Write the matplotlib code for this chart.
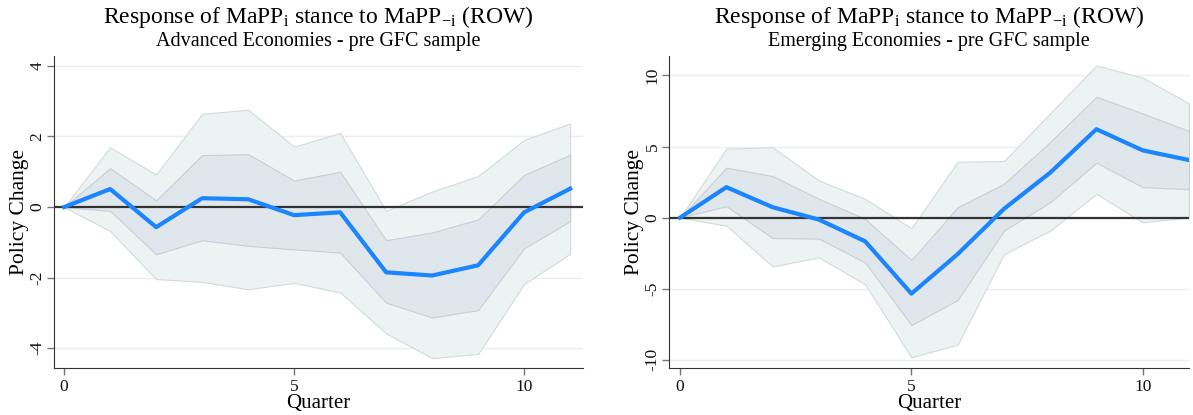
import matplotlib
matplotlib.use("Agg")
import matplotlib.pyplot as plt
import numpy as np

plt.rcParams['font.family'] = ['Liberation Serif', 'DejaVu Serif']
plt.rcParams['mathtext.fontset'] = 'custom'
plt.rcParams['mathtext.rm'] = 'Liberation Serif'
plt.rcParams['mathtext.it'] = 'Liberation Serif:italic'
plt.rcParams['axes.unicode_minus'] = False

quarters = list(range(12))

# Advanced Economies
ae_point = [0, 0.51, -0.57, 0.25, 0.22, -0.23, -0.15, -1.85, -1.94, -1.65, -0.15, 0.52]
ae_in_hi = [0, 1.10, 0.19, 1.47, 1.50, 0.75, 1.00, -0.94, -0.72, -0.35, 0.91, 1.48]
ae_in_lo = [0, -0.11, -1.34, -0.94, -1.10, -1.20, -1.29, -2.71, -3.13, -2.92, -1.17, -0.40]
ae_out_hi = [0, 1.69, 0.92, 2.64, 2.76, 1.71, 2.10, -0.11, 0.44, 0.88, 1.90, 2.37]
ae_out_lo = [0, -0.68, -2.04, -2.12, -2.33, -2.15, -2.42, -3.58, -4.28, -4.16, -2.18, -1.32]

# Emerging Economies
em_point = [0, 2.14, 0.73, -0.14, -1.67, -5.35, -2.57, 0.61, 3.16, 6.22, 4.73, 4.05]
em_in_hi = [0, 3.51, 2.92, 1.32, -0.09, -2.99, 0.73, 2.38, 5.32, 8.50, 7.33, 6.10]
em_in_lo = [0, 0.80, -1.44, -1.48, -3.16, -7.56, -5.80, -0.92, 1.08, 3.86, 2.14, 2.00]
em_out_hi = [0, 4.85, 4.95, 2.61, 1.32, -0.75, 3.93, 3.98, 7.33, 10.70, 9.85, 8.03]
em_out_lo = [0, -0.57, -3.44, -2.80, -4.69, -9.83, -8.93, -2.57, -0.92, 1.67, -0.33, 0.02]

title = r"Response of MaPP$_\mathrm{i}$ stance to MaPP$_\mathrm{-i}$ (ROW)"
subtitles = ["Advanced Economies - pre GFC sample", "Emerging Economies - pre GFC sample"]
yticks_ae = [-4, -2, 0, 2, 4]
yticks_em = [-10, -5, 0, 5, 10]
xticks = [0, 5, 10]

fig = plt.figure(figsize=(11.93, 4.15), dpi=100)
ax1 = fig.add_axes([0.0453, 0.1133, 0.4434, 0.7518])
ax2 = fig.add_axes([0.5608, 0.1133, 0.4358, 0.7518])

panels = [
    (ax1, ae_point, ae_in_hi, ae_in_lo, ae_out_hi, ae_out_lo, yticks_ae, (-4.56, 4.28), (-0.22, 11.28), subtitles[0]),
    (ax2, em_point, em_in_hi, em_in_lo, em_out_hi, em_out_lo, yticks_em, (-10.58, 11.37), (-0.24, 11.0), subtitles[1]),
]

for ax, pt, ih, il, oh, ol, yt, ylim, xlim, sub in panels:
    for y in yt:
        ax.axhline(y, color='#e8f0f3', lw=1.0, zorder=0)
    ax.fill_between(quarters, ol, oh, facecolor='#edf3f3', edgecolor='#d4dada', lw=0.8, zorder=1)
    ax.fill_between(quarters, il, ih, facecolor='#e0e7ec', edgecolor='#c9d0d4', lw=0.8, zorder=2)
    ax.axhline(0, color='#333333', lw=1.6, zorder=3)
    ax.plot(quarters, pt, color='#1a85ff', lw=3.0, zorder=4, solid_joinstyle='round')
    ax.set_xlim(*xlim)
    ax.set_ylim(*ylim)
    ax.set_xticks(xticks)
    ax.set_yticks(yt)
    ax.tick_params(axis='x', direction='out', length=5, width=1, color='#777777',
                   labelsize=12.5, labelcolor='#111111', pad=3)
    ax.tick_params(axis='y', direction='out', length=5, width=1, color='#777777',
                   labelsize=12.5, labelcolor='#111111', pad=1)
    for lab in ax.get_yticklabels():
        lab.set_rotation(90)
        lab.set_va('center')
    ax.spines['top'].set_visible(False)
    ax.spines['right'].set_visible(False)
    ax.spines['left'].set_color('#333333')
    ax.spines['bottom'].set_color('#333333')
    ax.set_xlabel("Quarter", fontsize=15, labelpad=-1)
    ax.set_ylabel("Policy Change", fontsize=15.5, labelpad=0.5)
    ax.text(0.5, 1.125, title, transform=ax.transAxes, ha='center', va='center', fontsize=17)
    ax.text(0.5, 1.045, sub, transform=ax.transAxes, ha='center', va='center', fontsize=14.5)

fig.savefig("out.png", dpi=100)
